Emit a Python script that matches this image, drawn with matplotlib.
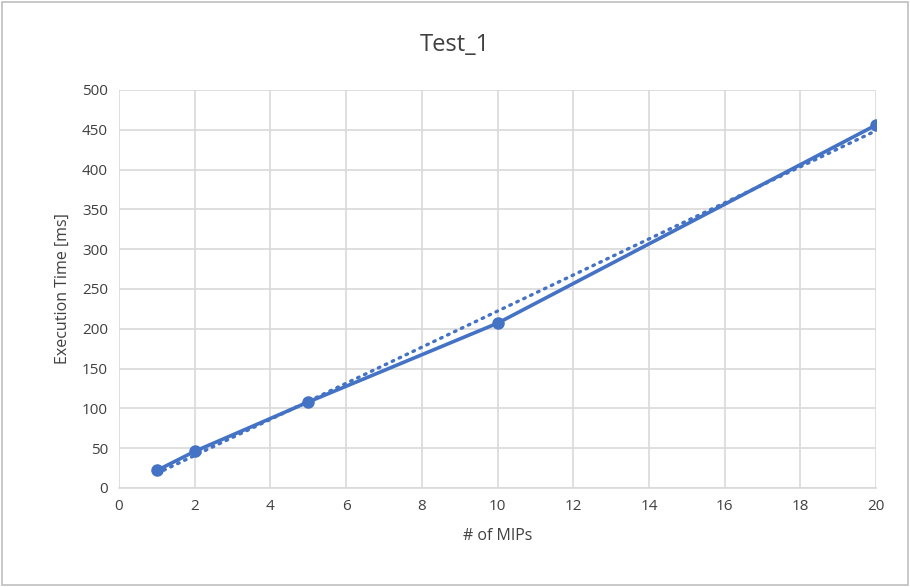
import numpy as np
import matplotlib.pyplot as plt
from matplotlib.patches import Rectangle

plt.rcParams['font.family'] = ['Open Sans', 'DejaVu Sans']

# data
mips = [1, 2, 5, 10, 20]
exec_ms = [22, 46, 108, 207, 456]
x_ticks = list(range(0, 21, 2))
y_ticks = list(range(0, 501, 50))

BLUE = "#4472C4"
GRID = "#D9D9D9"
TXT = "#404040"

fig = plt.figure(figsize=(9.1, 5.87), dpi=100)
ax = fig.add_axes([0.1308, 0.1687, 0.8319, 0.678])

ax.plot(mips, exec_ms, color=BLUE, lw=2.6, marker="o", ms=8, zorder=3)

# linear trendline (least squares, like excel)
k, b = np.polyfit(mips, exec_ms, 1)
xt = np.array([mips[0], mips[-1]])
ax.plot(xt, k * xt + b, color=BLUE, lw=2.4, ls=(0, (0.5, 1.8)),
        dash_capstyle="round", zorder=2)

ax.set_xlim(0, 20)
ax.set_ylim(0, 500)
ax.set_xticks(x_ticks)
ax.set_yticks(y_ticks)
ax.grid(True, color=GRID, lw=1.2)
ax.set_axisbelow(True)
for s in ["top", "right", "left"]:
    ax.spines[s].set_visible(False)
ax.spines["bottom"].set_color(GRID)
ax.spines["bottom"].set_linewidth(1.2)
ax.tick_params(length=0, labelsize=11, colors=TXT, pad=8)

ax.set_xlabel("# of MIPs", fontsize=11.5, color=TXT, labelpad=10)
ax.set_ylabel("Execution Time [ms]", fontsize=11.5, color=TXT, labelpad=8)
fig.text(0.5, 0.923, "Test_1", ha="center", va="center", fontsize=17, color=TXT)

fig.add_artist(Rectangle((0.002, 0.003), 0.996, 0.994, transform=fig.transFigure,
                         fill=False, edgecolor="#BFBFBF", lw=1.2))

fig.savefig("out.png", dpi=100)
